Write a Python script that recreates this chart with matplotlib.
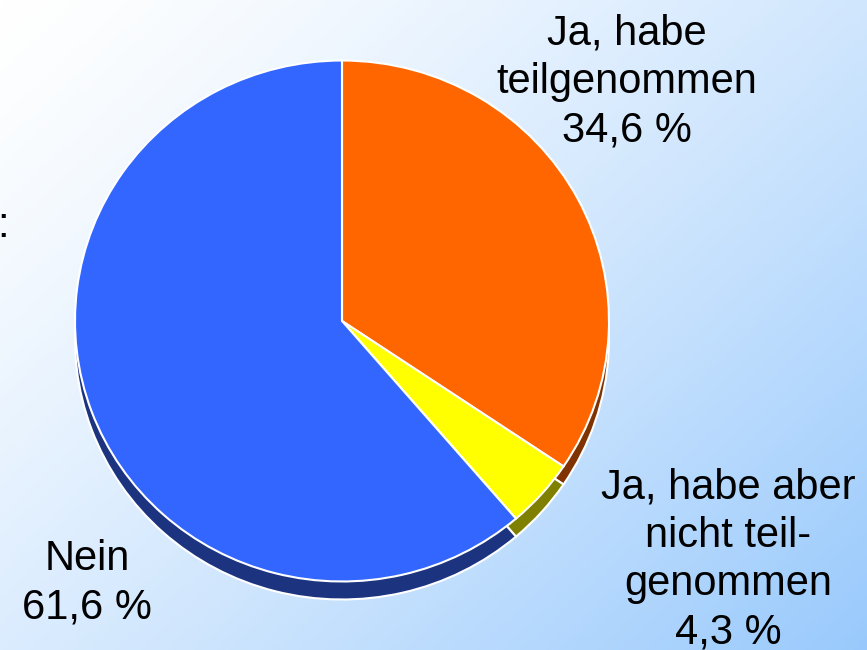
import numpy as np
import matplotlib.pyplot as plt

plt.rcParams['font.family'] = ['Liberation Sans', 'DejaVu Sans']

# Daten
anteile = [34.6, 4.3, 61.6]
beschriftungen = ['Ja, habe\nteilgenommen\n34,6 %',
                  'Ja, habe aber\nnicht teil-\ngenommen\n4,3 %',
                  'Nein\n61,6 %']
farben_oben = ['#FF6600', '#FFFF00', '#3366FF']
farben_seite = ['#803300', '#808000', '#1C3480']

W, H = 867, 650
fig = plt.figure(figsize=(W / 100, H / 100), dpi=100)

# Hintergrund mit Farbverlauf (oben links weiss, unten rechts hellblau)
bg = fig.add_axes([0, 0, 1, 1])
xx, yy = np.meshgrid(np.linspace(0, 1, 200), np.linspace(0, 1, 150))
t = np.clip((xx * 0.55 + yy * 0.45), 0, 1) ** 1.3
c0 = np.array([1.0, 1.0, 1.0])
c1 = np.array([0.60, 0.79, 0.99])
img = c0[None, None, :] * (1 - t[..., None]) + c1[None, None, :] * t[..., None]
bg.imshow(img, extent=[0, W, H, 0], aspect='auto')
bg.set_xlim(0, W)
bg.set_ylim(H, 0)
bg.axis('off')

# Kreis leicht gestaucht (3D-Neigung)
k = 1.025
ax = fig.add_axes([0, 0, 1, 1])
ax.patch.set_alpha(0)
mx, my, r, tiefe = 342, (H - 321) * k, 267, 18 * k

# Seitenflaeche (dunkel, nach unten versetzt)
ax.pie(anteile, colors=farben_seite, startangle=90, counterclock=False,
       center=(mx, my - tiefe), radius=r,
       wedgeprops=dict(edgecolor='white', linewidth=1.5))
# Oberflaeche
ax.pie(anteile, colors=farben_oben, startangle=90, counterclock=False,
       center=(mx, my), radius=r,
       wedgeprops=dict(edgecolor='white', linewidth=1.5))
ax.set_xlim(0, W)
ax.set_ylim(0, H * k)
ax.set_aspect('auto')
ax.axis('off')

# Beschriftungen
pos = [(627, H - 82), (728, H - 560), (87, H - 583)]
for txt, (x, y) in zip(beschriftungen, pos):
    ax.text(x, y * k, txt, ha='center', va='center', fontsize=30,
            linespacing=1.27, color='black')
ax.text(3, (H - 226) * k, ':', ha='center', va='center', fontsize=30, color='black')

fig.savefig('out.png', dpi=100)
